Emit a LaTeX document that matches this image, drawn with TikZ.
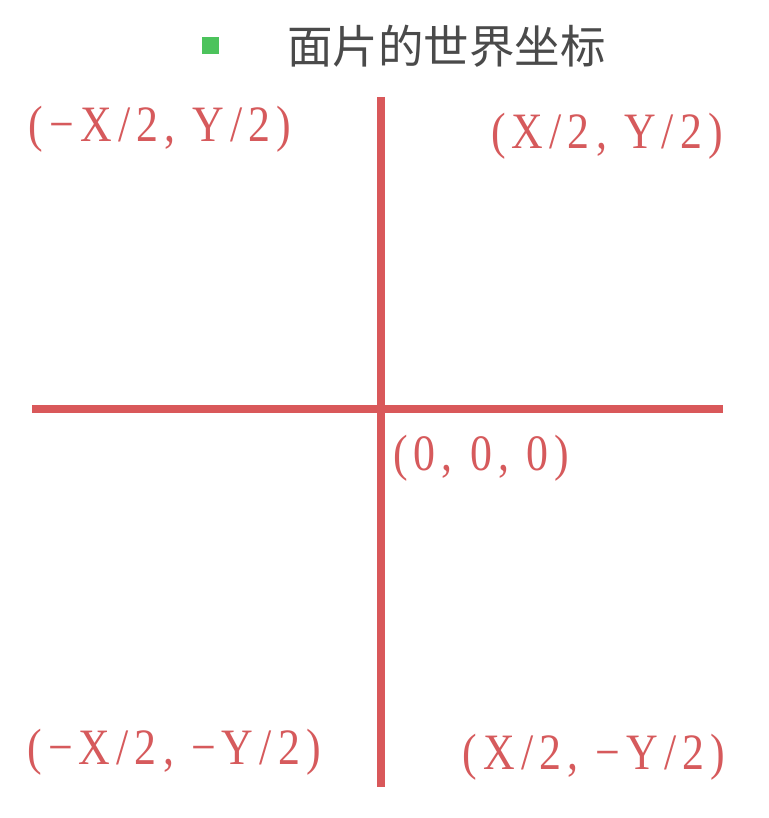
\documentclass[tikz,border=0pt]{standalone}
\usepackage{fontspec}
\setmainfont{Liberation Serif}
\newfontfamily\cjk{Noto Sans CJK SC}
\newfontfamily\lblfont[FakeStretch=0.86,LetterSpace=12]{Liberation Serif}
\definecolor{axisred}{HTML}{D9585A}
\definecolor{lblred}{HTML}{D65A5C}
\definecolor{titlegray}{HTML}{4A4A4A}
\definecolor{bulletgreen}{HTML}{4CC35C}
\begin{document}
\begin{tikzpicture}[x=1pt,y=-1pt,
  axis/.style={draw=axisred,line width=7.5pt},
  lbl/.style={inner sep=0pt,text=lblred,font=\fontsize{51}{51}\lblfont},
  ttl/.style={inner sep=0pt,text=titlegray,font=\fontsize{45.5}{45.5}\cjk}]
\useasboundingbox[fill=white] (0,0) rectangle (768,818);
\coordinate (vt) at (381,97);
\coordinate (vb) at (381,787);
\coordinate (hl) at (32,409);
\coordinate (hr) at (723,409);
\draw[axis] (vt) -- (vb);
\draw[axis] (hl) -- (hr);
\fill[bulletgreen] (202,37) rectangle (219,54) coordinate (bul);
\node[ttl,anchor=west] (title) at (287,46) {面片的世界坐标};
\node[lbl] (tl) at (160,129) {(−X/2, Y/2)};
\node[lbl] (tr) at (607,136) {(X/2, Y/2)};
\node[lbl] (o) at (481,458) {(0, 0, 0)};
\node[lbl] (bl) at (174,752) {(−X/2, −Y/2)};
\node[lbl] (br) at (594,757) {(X/2, −Y/2)};
\end{tikzpicture}
\end{document}
